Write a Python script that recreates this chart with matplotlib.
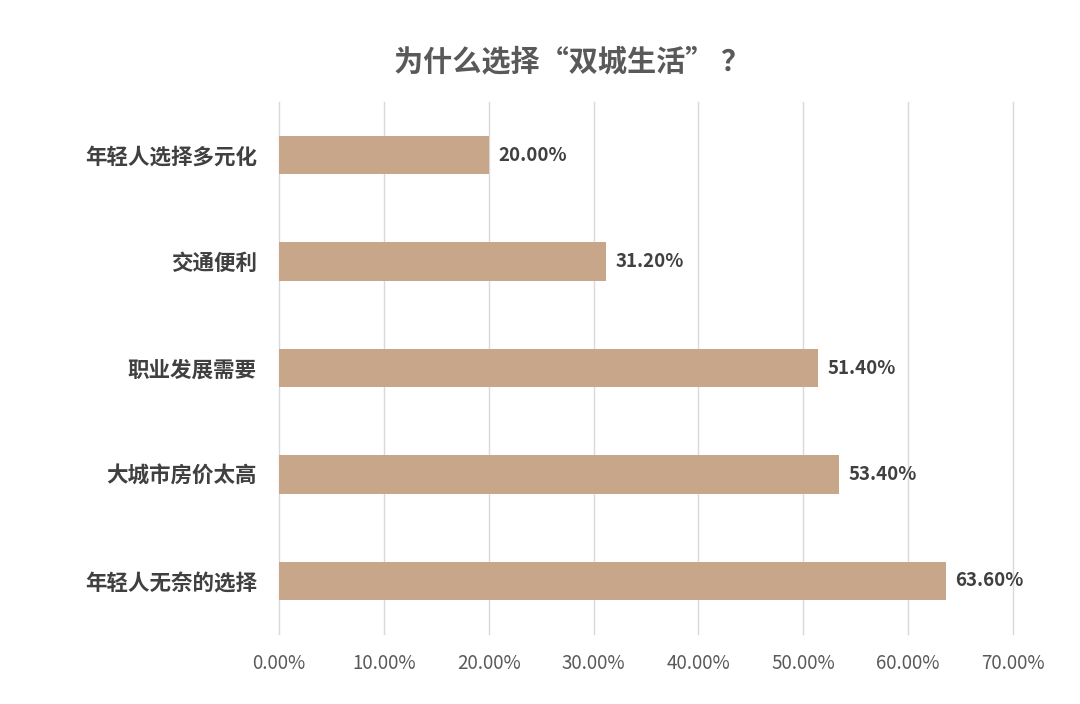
import matplotlib.pyplot as plt
from matplotlib.ticker import FuncFormatter, MultipleLocator

plt.rcParams['font.family'] = ['Noto Sans CJK SC', 'DejaVu Sans']

# 数据
categories = ['年轻人无奈的选择', '大城市房价太高', '职业发展需要', '交通便利', '年轻人选择多元化']
values = [63.6, 53.4, 51.4, 31.2, 20.0]
title = '为什么选择“双城生活” ？'

bar_color = '#C8A689'
grid_color = '#D9D9D9'
text_dark = '#404040'
text_grey = '#595959'

fig = plt.figure(figsize=(10.8, 7.04), dpi=100, facecolor='white')
ax = fig.add_axes([0.2583, 0.0994, 0.6796, 0.7557])

ypos = list(range(len(categories)))
ax.barh(ypos, values, height=0.36, color=bar_color, zorder=3)

for y, v in zip(ypos, values):
    ax.text(v + 0.9, y, f'{v:.2f}%', va='center', ha='left',
            fontsize=13.5, fontweight='bold', color=text_dark)

ax.set_xlim(0, 70)
ax.set_ylim(-0.5, len(categories) - 0.5)
ax.xaxis.set_major_locator(MultipleLocator(10))
ax.xaxis.set_major_formatter(FuncFormatter(lambda x, _: f'{x:.2f}%'))
ax.set_yticks(ypos)
ax.set_yticklabels(categories, fontsize=15.5, fontweight='bold', color=text_dark)

ax.grid(axis='x', color=grid_color, linewidth=1, zorder=0)
for gl in ax.get_xgridlines():
    gl.set_clip_on(False)
for s in ax.spines.values():
    s.set_visible(False)
ax.tick_params(axis='both', length=0)
ax.tick_params(axis='x', labelsize=13.5, labelcolor=text_grey, pad=14)
ax.tick_params(axis='y', pad=16)

fig.text(0.5295, 0.913, title, ha='center', va='center', fontsize=21,
         fontweight='bold', color=text_grey)

fig.savefig('out.png', dpi=100, facecolor='white')
